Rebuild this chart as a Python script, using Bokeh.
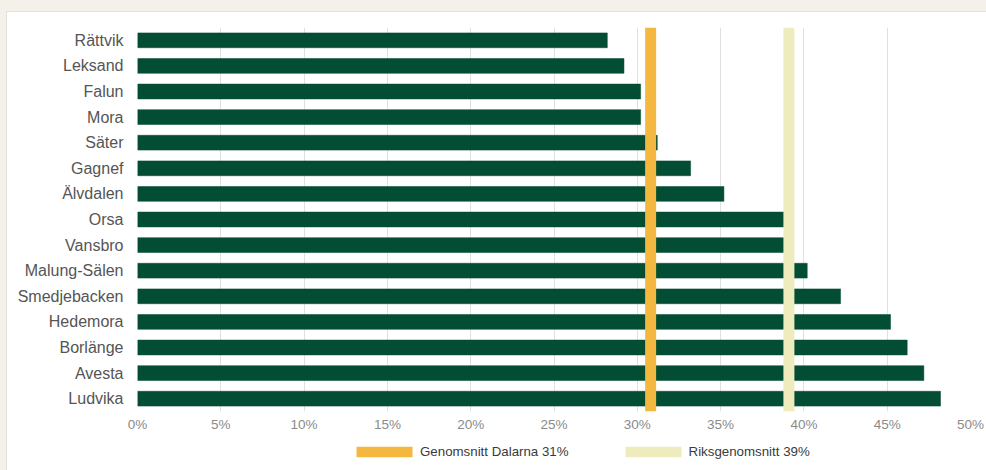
from bokeh.plotting import figure
from bokeh.models import (FactorRange, Range1d, Span, Legend, LegendItem,
                          FixedTicker, PrintfTickFormatter, ColumnDataSource)
from bokeh.layouts import column
from bokeh.embed import file_html
from bokeh.resources import INLINE

# ---- data ----
cities = ["Rättvik", "Leksand", "Falun", "Mora", "Säter", "Gagnef", "Älvdalen",
          "Orsa", "Vansbro", "Malung-Sälen", "Smedjebacken", "Hedemora",
          "Borlänge", "Avesta", "Ludvika"]
shares = [28.2, 29.2, 30.2, 30.2, 31.2, 33.2, 35.2, 39.0, 39.0, 40.2, 42.2,
          45.2, 46.2, 47.2, 48.2]
dalarna_avg = 30.8
riks_avg = 39.1
legend_labels = ["Genomsnitt Dalarna 31%", "Riksgenomsnitt 39%"]
x_ticks = [0, 5, 10, 15, 20, 25, 30, 35, 40, 45, 50]

GREEN = "#024d33"
ORANGE = "#f4b840"
PALE = "#eeecbc"
FONT = "Liberation Sans"

p = figure(width=979, height=426,
           y_range=FactorRange(factors=cities[::-1]),
           x_range=Range1d(0, 50),
           output_backend="svg", toolbar_location=None,
           min_border_left=130, min_border_right=16,
           min_border_top=15, min_border_bottom=27)
p.outline_line_color = None
p.background_fill_color = "white"
p.border_fill_color = "white"

src = ColumnDataSource(dict(city=cities, share=shares))
p.hbar(y="city", left=0, right="share", height=0.58, source=src,
       fill_color=GREEN, line_color=GREEN, line_width=0.5)

p.add_layout(Span(location=dalarna_avg, dimension="height",
                  line_color=ORANGE, line_width=11))
p.add_layout(Span(location=riks_avg, dimension="height",
                  line_color=PALE, line_width=11))

p.ygrid.visible = False
p.xgrid.ticker = FixedTicker(ticks=x_ticks)
p.xgrid.grid_line_color = "#e0e0e0"

for ax in (p.xaxis, p.yaxis):
    ax.axis_line_color = None
    ax.major_tick_line_color = None
    ax.minor_tick_line_color = None
    ax.major_tick_out = 0
    ax.major_tick_in = 0
    ax.minor_tick_out = 0
    ax.major_label_text_font = FONT

p.xaxis.ticker = FixedTicker(ticks=x_ticks)
p.xaxis.formatter = PrintfTickFormatter(format="%d%%")
p.xaxis.major_label_text_font_size = "13.5px"
p.xaxis.major_label_text_color = "#8a8a8a"
p.xaxis.major_label_standoff = 5

p.yaxis.major_label_text_font_size = "16px"
p.yaxis.major_label_text_color = "#555555"
p.yaxis.major_label_standoff = 14

# ---- legend strip ----
lg = figure(width=979, height=32, x_range=Range1d(0, 1), y_range=Range1d(0, 1),
            output_backend="svg", toolbar_location=None,
            min_border_left=0, min_border_right=0,
            min_border_top=0, min_border_bottom=0,
            x_axis_type=None, y_axis_type=None)
lg.outline_line_color = None
lg.grid.visible = False
lg.background_fill_color = "white"
lg.border_fill_color = "white"

# swatch renderers kept outside the visible range; only their legend glyphs show
r1 = lg.rect(x=[-5], y=[-5], width=1, height=1, fill_color=ORANGE, line_color=None)
r2 = lg.rect(x=[-5], y=[-5], width=1, height=1, fill_color=PALE, line_color=None)

legend = Legend(items=[LegendItem(label=legend_labels[0], renderers=[r1]),
                       LegendItem(label=legend_labels[1], renderers=[r2])],
                orientation="horizontal", location=(212, 11),
                glyph_width=70, glyph_height=13, label_standoff=1,
                label_height=15, spacing=49, padding=0, margin=0,
                border_line_color=None, background_fill_alpha=0,
                label_text_font=FONT, label_text_font_size="13.3px",
                label_text_color="#3a3a3a")
lg.add_layout(legend, "center")

inner = column(p, lg, spacing=0,
               styles={"border-top": "1px solid #e4e1da",
                       "border-left": "1px solid #e4e1da",
                       "background-color": "white"})
root = column(inner, styles={"background-color": "#f4f1ea",
                             "padding": "11px 0px 0px 6px"})

open("out.html", "w").write(file_html(root, INLINE))
